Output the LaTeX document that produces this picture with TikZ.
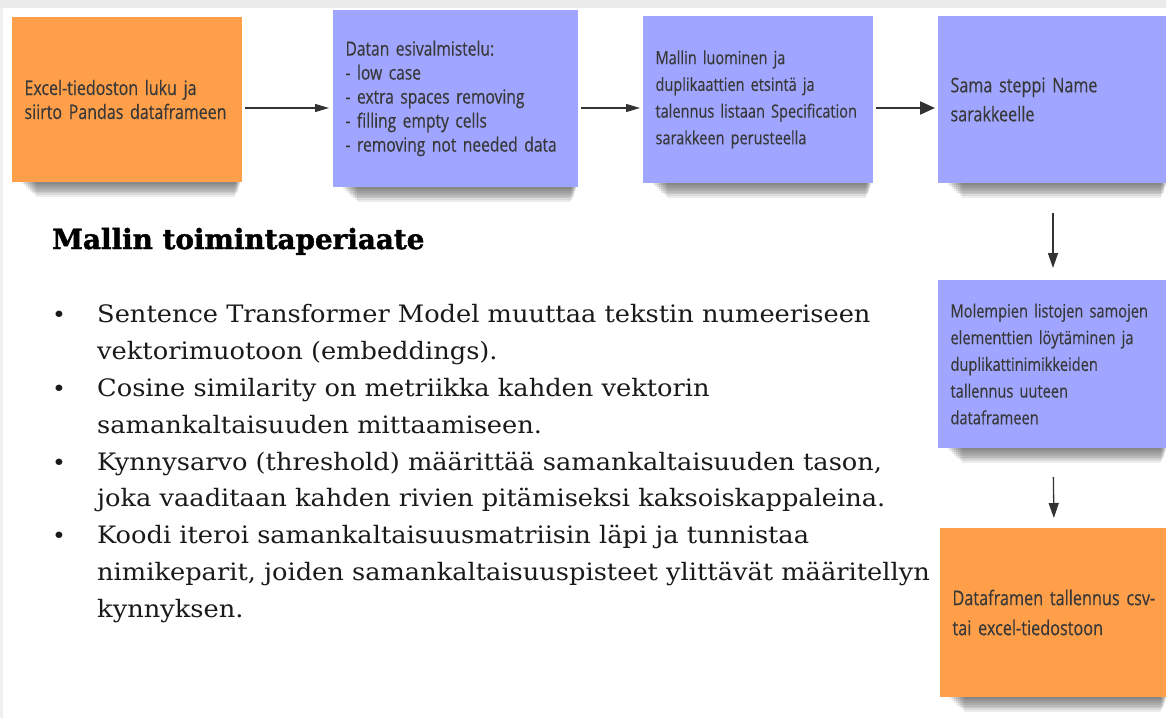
\documentclass[tikz,border=0pt]{standalone}
\usepackage{fontspec}
\setmainfont{DejaVu Serif}
\newfontfamily\boxfont[FakeStretch=0.8, FakeBold=0.3]{Open Sans}
\newfontfamily\bodyfont[FakeStretch=1.07]{DejaVu Serif}
\newfontfamily\headfont[BoldFeatures={FakeBold=1.6}]{DejaVu Serif}
\usetikzlibrary{arrows.meta,backgrounds}

\definecolor{orng}{HTML}{FF9F4A}
\definecolor{prpl}{HTML}{A0A5FF}
\definecolor{boxtxt}{HTML}{383838}
\definecolor{arrc}{HTML}{333333}
\definecolor{band}{HTML}{EBEBEB}
\definecolor{strip}{HTML}{F0F0F0}
\definecolor{bodytxt}{HTML}{1A1A1A}

\begin{document}
\begin{tikzpicture}[x=1pt,y=-1pt,
  note/.style={inner xsep=12.5pt, inner ysep=0pt, outer sep=0pt, align=left, text=boxtxt, anchor=center},
  orangenote/.style={note, fill=orng},
  purplenote/.style={note, fill=prpl},
  arr/.style={draw=arrc, line width=1.3pt, -{Triangle[length=14pt,width=8pt]}},
  arrthick/.style={draw=arrc, line width=2.2pt, -{Triangle[length=15pt,width=13pt]}},
  arrdown/.style={draw=arrc, line width=1.3pt, -{Triangle[length=15pt,width=10pt]}},
  bodyline/.style={inner sep=0pt, anchor=base west, text=bodytxt, font=\bodyfont\fontsize{24}{30}\selectfont},
  bulletmark/.style={inner sep=0pt, anchor=base, text=bodytxt, font=\bodyfont\fontsize{22}{30}\selectfont},
]
\useasboundingbox (0,0) rectangle (1166,718);

% ---- boxes ----
\node[orangenote, text width=205pt, minimum height=165pt,
      font=\boxfont\fontsize{20}{24}\selectfont] (b1) at (127,99.5)
  {Excel-tiedoston luku ja\\siirto Pandas dataframeen};
\node[purplenote, text width=220pt, minimum height=177pt,
      font=\boxfont\fontsize{19.5}{24}\selectfont] (b2) at (455.5,98.5)
  {Datan esivalmistelu:\\- low case\\- extra spaces removing\\- filling empty cells\\- removing not needed data};
\node[purplenote, text width=205pt, minimum height=167pt,
      font=\boxfont\fontsize{18.2}{26.7}\selectfont] (b3) at (758,99.5)
  {Mallin luominen ja\\duplikaattien etsintä ja\\talennus listaan Specification\\sarakkeen perusteella};
\node[purplenote, text width=205pt, minimum height=167pt,
      font=\boxfont\fontsize{20.2}{29}\selectfont] (b4) at (1053,99.5)
  {Sama steppi Name\\sarakkeelle};
\node[purplenote, text width=205pt, minimum height=168pt,
      font=\boxfont\fontsize{18.3}{26.7}\selectfont] (b5) at (1053,364)
  {Molempien listojen samojen\\elementtien löytäminen ja\\duplikattinimikkeiden\\tallennus uuteen\\dataframeen};
\node[orangenote, text width=203pt, minimum height=169pt,
      font=\boxfont\fontsize{20.3}{30}\selectfont] (b6) at (1054,612.5)
  {Dataframen tallennus csv-\\tai excel-tiedostoon};

% ---- connectors ----
\coordinate (ay) at (0,108);
\draw[arr, shorten <=3pt, shorten >=4pt] (b1.east |- ay) -- (b2.west |- ay);
\draw[arr, shorten <=3pt, shorten >=3pt] (b2.east |- ay) -- (b3.west |- ay);
\draw[arrthick, shorten <=3pt, shorten >=3pt] (b3.east |- ay) -- (b4.west |- ay);
\draw[arrdown, shorten <=30pt, shorten >=12pt] (b4.south) -- (b5.north);
\draw[arrdown, shorten <=29pt, shorten >=10pt] (b5.south) -- (b6.north);

% ---- text ----
\node[inner sep=0pt, anchor=base west, text=black,
      font=\headfont\bfseries\fontsize{27.8}{30}\selectfont] (title) at (52,249) {Mallin toimintaperiaate};

\node[bulletmark] (d1) at (59,322) {•};
\node[bodyline] (l1) at (97,322) {Sentence Transformer Model muuttaa tekstin numeeriseen};
\node[bodyline] (l2) at (97,359) {vektorimuotoon (embeddings).};
\node[bulletmark] (d2) at (59,396) {•};
\node[bodyline] (l3) at (97,396) {Cosine similarity on metriikka kahden vektorin};
\node[bodyline] (l4) at (97,433) {samankaltaisuuden mittaamiseen.};
\node[bulletmark] (d3) at (59,470) {•};
\node[bodyline] (l5) at (97,470) {Kynnysarvo (threshold) määrittää samankaltaisuuden tason,};
\node[bodyline] (l6) at (97,506) {joka vaaditaan kahden rivien pitämiseksi kaksoiskappaleina.};
\node[bulletmark] (d4) at (59,543) {•};
\node[bodyline] (l7) at (97,543) {Koodi iteroi samankaltaisuusmatriisin läpi ja tunnistaa};
\node[bodyline] (l8) at (97,580) {nimikeparit, joiden samankaltaisuuspisteet ylittävät määritellyn};
\node[bodyline] (l9) at (97,617) {kynnyksen.};

% ---- background, band and shadows ----
\begin{pgfonlayer}{background}
  \fill[white] (0,0) rectangle (1166,718);
  \fill[band] (0,0) rectangle (1166,8);
  \fill[strip] (0,8) rectangle (3,718);
  \foreach \n in {b1,b2,b3,b4,b5,b6}{
    \foreach \k in {1,...,8}{
      \fill[black, opacity=0.075]
        ([xshift={(8+2*\k)*1pt}, yshift=3pt]\n.south west) rectangle
        ([xshift={-(1+0.7*\k)*1pt}, yshift={-(1.9*\k)*1pt}]\n.south east);
    }
  }
\end{pgfonlayer}
\end{tikzpicture}
\end{document}
